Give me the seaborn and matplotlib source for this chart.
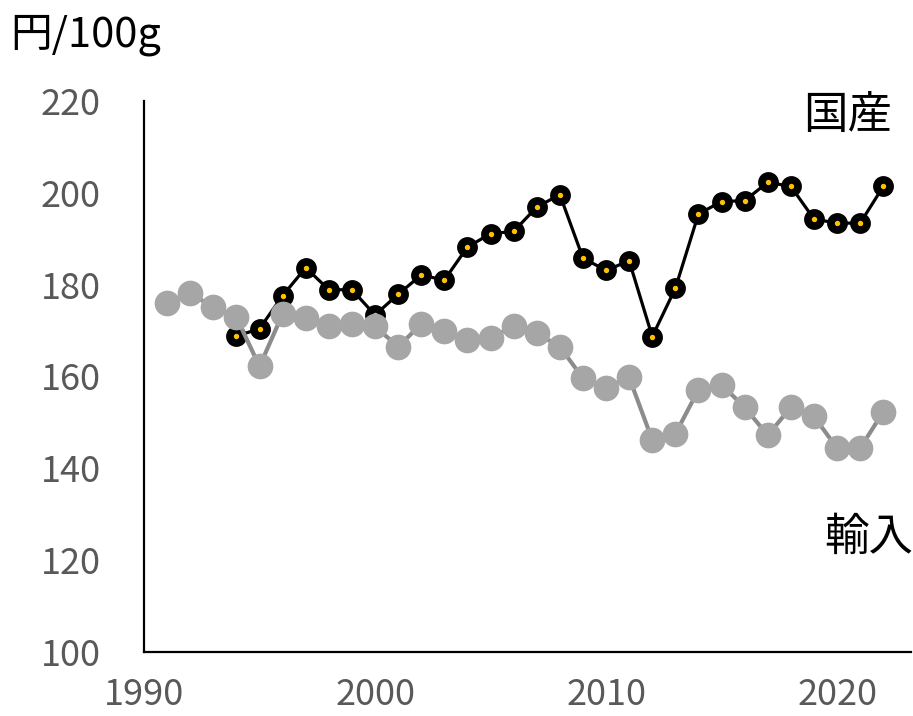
import matplotlib
matplotlib.use("Agg")
import matplotlib.pyplot as plt
import seaborn as sns
import pandas as pd

years_dom = list(range(1994, 2023))
domestic = [168.8, 170.4, 177.6, 183.7, 178.9, 178.9, 173.4, 177.9, 182.1, 181.0,
            188.2, 191.1, 191.6, 196.9, 199.6, 185.8, 183.1, 185.2, 168.7, 179.2,
            195.4, 198.1, 198.3, 202.3, 201.4, 194.3, 193.4, 193.4, 201.4]
years_imp = list(range(1991, 2023))
imported = [176.1, 178.1, 175.1, 172.9, 162.2, 173.6, 172.8, 171.0, 171.4, 170.9,
            166.5, 171.4, 169.9, 168.0, 168.3, 171.1, 169.4, 166.5, 159.6, 157.6,
            159.8, 146.2, 147.5, 157.1, 158.2, 153.3, 147.2, 153.3, 151.3, 144.4,
            144.4, 152.3]
x_ticks = [1990, 2000, 2010, 2020]
y_ticks = [100, 120, 140, 160, 180, 200, 220]
unit_label = "円/100g"
label_dom = "国産"
label_imp = "輸入"

sns.set_style("white")
plt.rcParams['font.family'] = ['Noto Sans CJK JP', 'DejaVu Sans']

df_dom = pd.DataFrame({"year": years_dom, "value": domestic})
df_imp = pd.DataFrame({"year": years_imp, "value": imported})

fig = plt.figure(figsize=(9.13, 7.16), dpi=100)
ax = fig.add_axes([144/913, 1-652/716, (911-144)/913, (652-101)/716])

sns.lineplot(data=df_dom, x="year", y="value", ax=ax, color="black", linewidth=2.3,
             marker="o", markersize=9.5, markerfacecolor="#FFC000",
             markeredgecolor="black", markeredgewidth=5.5, zorder=2)
sns.lineplot(data=df_imp, x="year", y="value", ax=ax, color="#8c8c8c", linewidth=3,
             marker="o", markersize=18.5, markerfacecolor="#A6A6A6",
             markeredgecolor="#A6A6A6", markeredgewidth=0, zorder=3)

ax.set_xlim(1990, 2023.2)
ax.set_ylim(100, 220)
ax.set_xticks(x_ticks)
ax.set_yticks(y_ticks)
ax.set_xlabel("")
ax.set_ylabel("")
ax.tick_params(axis="both", length=0, labelsize=26, labelcolor="#595959")
ax.tick_params(axis="x", pad=18)
ax.tick_params(axis="y", pad=31)
for s in ["top", "right"]:
    ax.spines[s].set_visible(False)
for s in ["left", "bottom"]:
    ax.spines[s].set_color("black")
    ax.spines[s].set_linewidth(1.6)

fig.text(10/913, 1-35/716, unit_label, fontsize=30, va="center", ha="left", color="black")
ax.text(2022.4, 217, label_dom, fontsize=32, ha="right", va="center", color="black")
ax.text(2023.3, 125, label_imp, fontsize=32, ha="right", va="center", color="black")

fig.savefig("out.png", dpi=100)
